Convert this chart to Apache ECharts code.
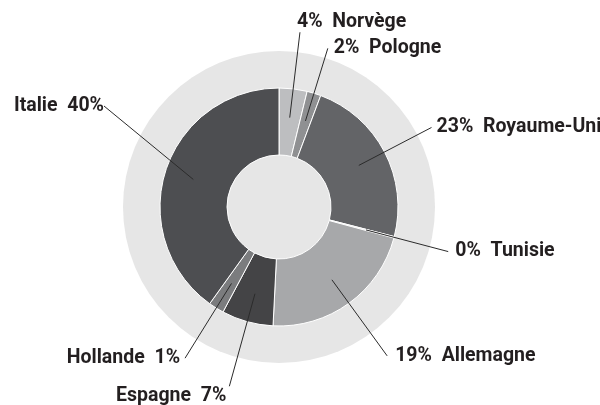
<!DOCTYPE html>
<html><head><meta charset="utf-8">
<script src="https://cdn.jsdelivr.net/npm/echarts@6/dist/echarts.min.js"></script>
<style>html,body{margin:0;padding:0;background:#fff}#c{width:600px;height:405px}</style>
</head><body><div id="c"></div>
<script>
// ---- data ----
const countries = ['Norvège', 'Pologne', 'Royaume-Uni', 'Tunisie', 'Allemagne', 'Espagne', 'Hollande', 'Italie'];
const shares = [3.8, 1.9, 23.3, 0.2, 21.6, 7.0, 2.1, 40.1];
const shareLabels = ['4%', '2%', '23%', '0%', '19%', '7%', '1%', '40%'];

// ---- styles ----
const sliceColors = ['#bdbec0', '#8f9092', '#636467', '#d4d4d4', '#a7a8aa', '#444446', '#7b7c7e', '#4d4e51'];
const labelTweaks = [
  { length: 86, dist: -3, vAlign: 'bottom' },
  { length: 76, dist: 6, vAlign: null },
  { length: 82, dist: 5, vAlign: null },
  { length: 85, dist: 7, vAlign: null },
  { length: 94, dist: 8, vAlign: null },
  { length: 96, dist: 3, vAlign: 'top' },
  { length: 88, dist: 5, vAlign: null },
  { length: 90, dist: 5, vAlign: null }
];
const FONT = 'Roboto, "Liberation Sans", sans-serif';

// cumulative mid position decides text order (left side: name first)
const total = shares.reduce((a, b) => a + b, 0);
let acc = 0;
const onLeft = shares.map(v => { const mid = acc + v / 2; acc += v; return mid / total > 0.5; });

const chart = echarts.init(document.getElementById('c'), null, { renderer: 'canvas' });
const CENTER = [279, 207];

chart.setOption({
  animation: false,
  backgroundColor: '#fff',
  series: [
    {
      type: 'pie', silent: true, center: CENTER, radius: [0, 156], z: 1,
      label: { show: false }, labelLine: { show: false },
      itemStyle: { color: '#e6e6e6' },
      emphasis: { disabled: true },
      data: [{ value: 1, name: 'bg' }]
    },
    {
      type: 'pie', silent: true, center: CENTER, radius: [52, 119], z: 2,
      startAngle: 90, clockwise: true,
      label: { show: false }, labelLine: { show: false },
      itemStyle: { borderColor: '#ffffff', borderWidth: 1 },
      emphasis: { disabled: true },
      data: countries.map((n, i) => ({ name: n, value: shares[i], itemStyle: { color: sliceColors[i] } }))
    },
    {
      type: 'pie', silent: true, center: CENTER, radius: [0, 90], z: 10,
      startAngle: 90, clockwise: true,
      avoidLabelOverlap: false,
      itemStyle: { color: 'rgba(0,0,0,0)', borderWidth: 0 },
      emphasis: { disabled: true },
      label: {
        show: true, position: 'outside', alignTo: 'none',
        fontFamily: FONT, fontWeight: 'bold', fontSize: 19.5, color: '#231f20',
        formatter: p => onLeft[p.dataIndex]
          ? countries[p.dataIndex] + '  ' + shareLabels[p.dataIndex]
          : shareLabels[p.dataIndex] + '  ' + countries[p.dataIndex]
      },
      labelLine: { show: true, showAbove: true, length2: 0, smooth: false, lineStyle: { color: '#2b2b2b', width: 1 } },
      labelLayout: p => {
        if (p.dataIndex === 7) return { x: 104, y: 106, align: 'right', verticalAlign: 'middle' };
        const v = labelTweaks[p.dataIndex].vAlign;
        return v ? { verticalAlign: v } : {};
      },
      data: countries.map((n, i) => ({
        name: n, value: shares[i],
        label: { distanceToLabelLine: labelTweaks[i].dist },
        labelLine: { length: labelTweaks[i].length, length2: 0 }
      }))
    }
  ]
});
</script></body></html>
